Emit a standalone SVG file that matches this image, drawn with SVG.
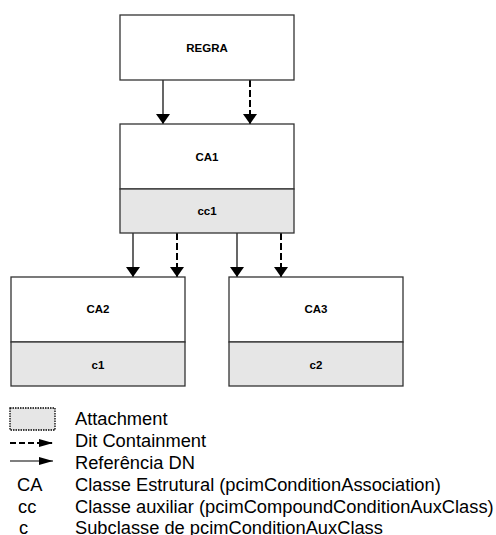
<svg xmlns="http://www.w3.org/2000/svg" width="496" height="535" viewBox="0 0 496 535">
<defs>
<style>
.box{fill:#ffffff;stroke:#333333;stroke-width:1.3}
.aux{fill:#e6e6e6;stroke:#333333;stroke-width:1.3}
.lbl{font-family:"Liberation Sans",Arial,sans-serif;font-weight:bold;font-size:11.5px;fill:#000;text-anchor:middle}
.leg{font-family:"Liberation Sans",Arial,sans-serif;font-size:18.3px;fill:#000}
.solid{stroke:#000;stroke-width:1.2;fill:none}
.dash{stroke:#000;stroke-width:2;stroke-dasharray:7 3;fill:none}
</style>
<marker id="ah" viewBox="0 0 10 10" refX="10" refY="5" markerWidth="10" markerHeight="14" markerUnits="userSpaceOnUse" orient="auto" preserveAspectRatio="none">
<path d="M0,0 L10,5 L0,10 Z" fill="#000"/>
</marker>
<marker id="ahl" viewBox="0 0 10 10" refX="10" refY="5" markerWidth="14" markerHeight="8" markerUnits="userSpaceOnUse" orient="auto" preserveAspectRatio="none">
<path d="M0,0 L10,5 L0,10 Z" fill="#000"/>
</marker>
</defs>
<rect width="496" height="535" fill="#ffffff"/>

<g id="connectors">
<line class="solid" x1="163" y1="80" x2="163" y2="124" marker-end="url(#ah)"/>
<line class="dash" x1="250" y1="80" x2="250" y2="124" marker-end="url(#ah)"/>
<line class="solid" x1="133" y1="233" x2="133" y2="277" marker-end="url(#ah)"/>
<line class="dash" x1="177" y1="233" x2="177" y2="277" marker-end="url(#ah)"/>
<line class="solid" x1="237" y1="233" x2="237" y2="277" marker-end="url(#ah)"/>
<line class="dash" x1="281" y1="233" x2="281" y2="277" marker-end="url(#ah)"/>
</g>

<g id="regra">
<rect class="box" x="120" y="15" width="174" height="65"/>
<text class="lbl" x="207" y="52">REGRA</text>
</g>

<g id="ca1">
<rect class="box" x="120" y="124" width="174" height="65"/>
<rect class="aux" x="120" y="189" width="174" height="44"/>
<text class="lbl" x="207" y="161">CA1</text>
<text class="lbl" x="207" y="215">cc1</text>
</g>

<g id="ca2">
<rect class="box" x="11" y="277" width="174" height="65"/>
<rect class="aux" x="11" y="342" width="174" height="44"/>
<text class="lbl" x="98" y="313">CA2</text>
<text class="lbl" x="98" y="369">c1</text>
</g>

<g id="ca3">
<rect class="box" x="229" y="277" width="174" height="65"/>
<rect class="aux" x="229" y="342" width="174" height="44"/>
<text class="lbl" x="316" y="313">CA3</text>
<text class="lbl" x="316" y="369">c2</text>
</g>

<g id="legend">
<rect x="10" y="408" width="45" height="22" fill="#e6e6e6" stroke="#000" stroke-width="1.3" stroke-dasharray="1.5 1"/>
<text class="leg" x="75" y="425">Attachment</text>
<line x1="10" y1="443" x2="53" y2="443" stroke="#000" stroke-width="2" stroke-dasharray="6 3" marker-end="url(#ahl)"/>
<text class="leg" x="75" y="447">Dit Containment</text>
<line x1="10" y1="461" x2="53" y2="461" stroke="#000" stroke-width="1.2" marker-end="url(#ahl)"/>
<text class="leg" x="75" y="469">Referência DN</text>
<text class="leg" x="17" y="491">CA</text>
<text class="leg" x="75" y="491">Classe Estrutural (pcimConditionAssociation)</text>
<text class="leg" x="18" y="513">cc</text>
<text class="leg" x="75" y="513">Classe auxiliar (pcimCompoundConditionAuxClass)</text>
<text class="leg" x="19" y="534">c</text>
<text class="leg" x="75" y="534">Subclasse de pcimConditionAuxClass</text>
</g>
</svg>
